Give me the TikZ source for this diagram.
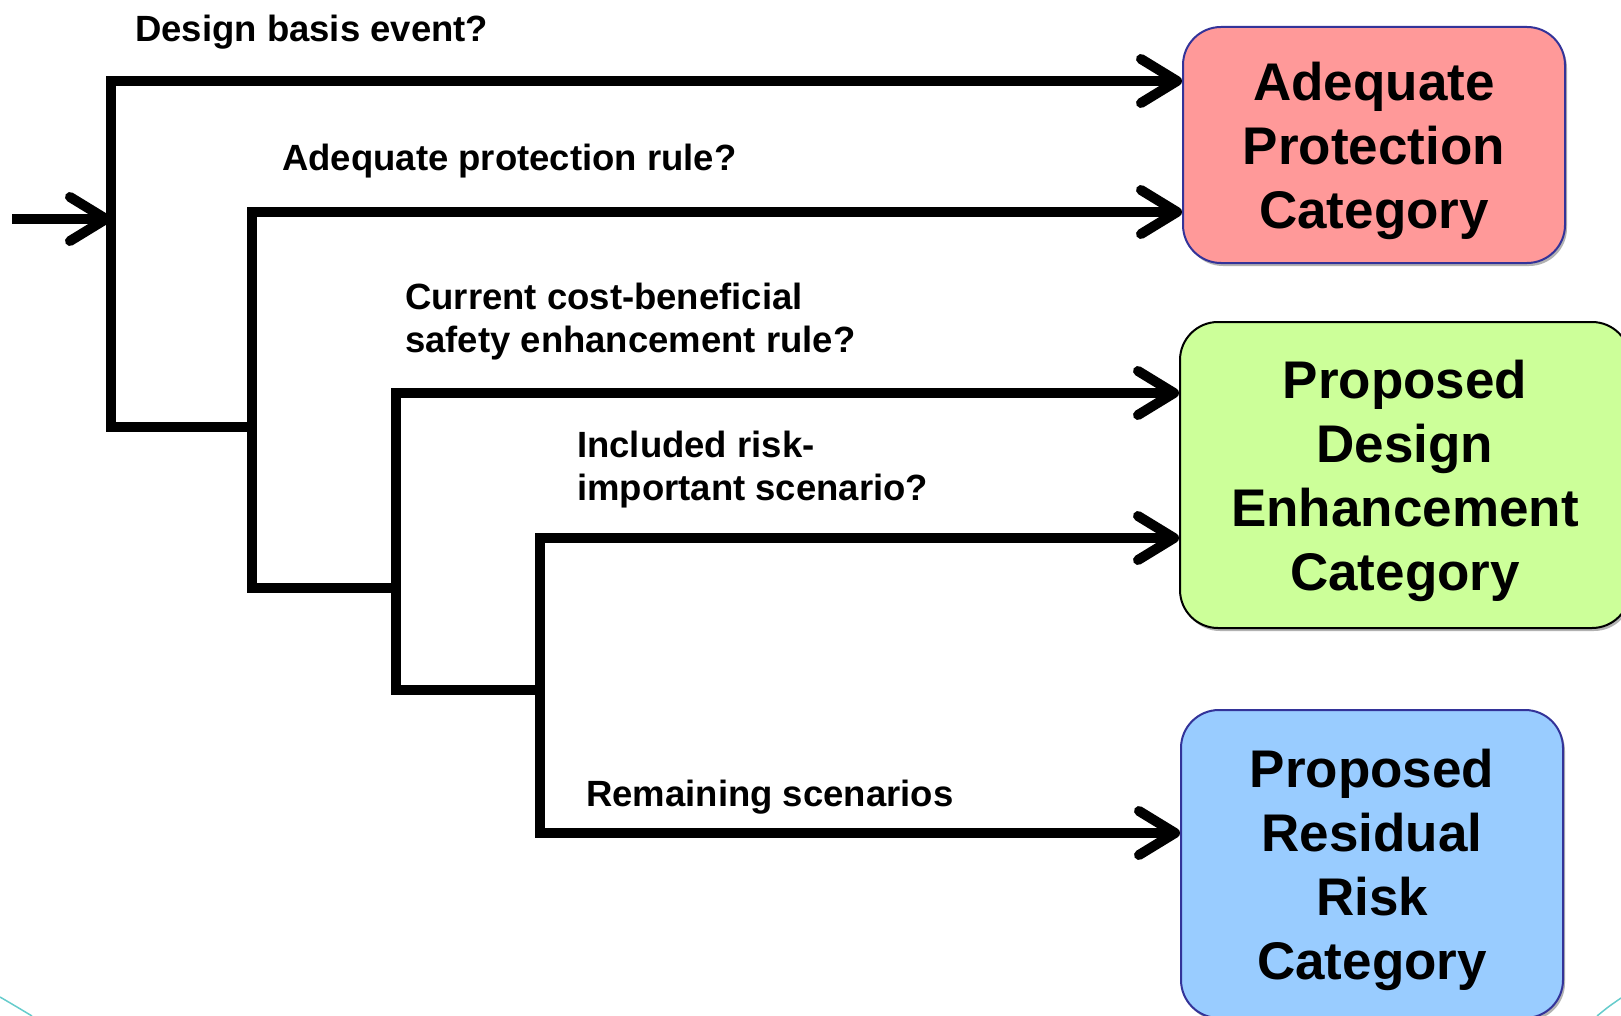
\documentclass[tikz,border=0pt]{standalone}
\usepackage{fontspec}
\setmainfont{Liberation Sans}
\usetikzlibrary{arrows.meta, shadows}
\definecolor{cpink}{HTML}{FF9999}
\definecolor{cgreen}{HTML}{CCFF99}
\definecolor{cblue}{HTML}{99CCFF}
\definecolor{cnavy}{HTML}{333399}
\definecolor{cteal}{HTML}{66CCCC}
\newcommand{\topgap}{\rule{0pt}{51pt}}
\tikzset{
  every picture/.style={x=1pt, y=-1pt},
  wire/.style={draw=black, line width=10pt},
  flow/.style={wire, -{Straight Barb[length=36pt, width=44pt, round]}},
  cat/.style={fill=#1, draw=cnavy, line width=2pt, rounded corners=38pt, align=center, inner sep=0pt,
    font=\fontsize{53}{64}\selectfont\bfseries,
    drop shadow={shadow xshift=2pt, shadow yshift=-3pt, fill=black!60}},
  ask/.style={anchor=base west, align=left, inner sep=0pt, font=\fontsize{36.5}{43}\selectfont\bfseries},
}

\begin{document}
\begin{tikzpicture}
  \useasboundingbox (0,0) rectangle (1621,1016);
  \clip (0,0) rectangle (1621,1016);
  % category boxes
  \node[cat=cpink, minimum width=382pt, minimum height=236pt] (apc) at (1374,145) {\topgap Adequate\\Protection\\Category};
  \node[cat=cgreen, draw=black, minimum width=450pt, minimum height=306pt] (pde) at (1405,475) {\topgap Proposed\\Design\\Enhancement\\Category};
  \node[cat=cblue, minimum width=382pt, minimum height=308pt] (prr) at (1372,864) {\topgap Proposed\\Residual\\Risk\\Category};
  % branch points
  \coordinate (in) at (12,219);
  \coordinate (v1t) at (111,81);  \coordinate (v1b) at (111,427);
  \coordinate (v2t) at (252,212); \coordinate (v2b) at (252,588);
  \coordinate (v3t) at (396,393); \coordinate (v3b) at (396,690);
  \coordinate (v4t) at (540,538); \coordinate (v4b) at (540,833);
  \draw[flow] (in) -- (in -| v1t);
  \draw[flow] (v1b -| v2t) -- (v1b) -- (v1t) -- (v1t -| apc.west);
  \draw[flow] (v2b -| v3t) -- (v2b) -- (v2t) -- (v2t -| apc.west);
  \draw[flow] (v3b -| v4t) -- (v3b) -- (v3t) -- (v3t -| pde.west);
  \draw[flow] (v4b) -- (v4t) -- (v4t -| pde.west);
  \draw[flow] (v4t) -- (v4b) -- (v4b -| prr.west);
  % questions (base = last line)
  \node[ask] (q1) at (135,42) {Design basis event?};
  \node[ask] (q2) at (282,171) {Adequate protection rule?};
  \node[ask] (q3) at (405,352) {Current cost-beneficial\\safety enhancement rule?};
  \node[ask] (q4) at (577,500) {Included risk-\\important scenario?};
  \node[ask] (q5) at (586,806) {Remaining scenarios};
  % slide corners
  \draw[cteal, line width=1.5pt] (0,997) .. controls (12,1004) .. (32,1016);
  \draw[cteal, line width=1.5pt] (1597,1016) .. controls (1608,1007) .. (1621,998);
\end{tikzpicture}
\end{document}
